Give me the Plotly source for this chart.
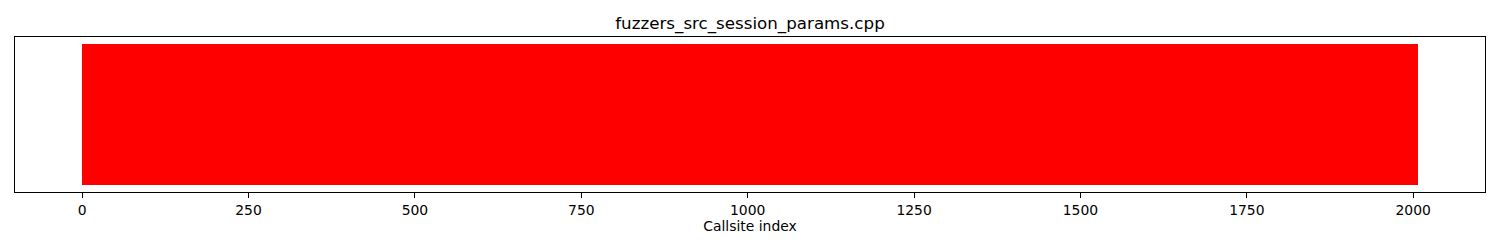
import plotly.graph_objects as go

# Data: callsite index ranges and their colour (red = not reached)
segment_start = [0]
segment_length = [2008]
segment_color = ["#ff0000"]
segment_value = [1]

tick_values = [0, 250, 500, 750, 1000, 1250, 1500, 1750, 2000]
tick_labels = ["0", "250", "500", "750", "1000", "1250", "1500", "1750", "2000"]
title_text = "fuzzers_src_session_params.cpp"
x_title = "Callsite index"

x_centers = [s + (l - 1) / 2 for s, l in zip(segment_start, segment_length)]

fig = go.Figure()
fig.add_trace(go.Bar(
    x=x_centers,
    y=segment_value,
    width=segment_length,
    base=0,
    marker=dict(color=segment_color, line=dict(width=0)),
    showlegend=False,
    hoverinfo="x",
))

data_min = min(segment_start) - 0.5
data_max = max(s + l for s, l in zip(segment_start, segment_length)) - 0.5
pad = 0.05 * (data_max - data_min)

FONT = "DejaVu Sans"
fig.update_layout(
    width=1500, height=250,
    margin=dict(l=15, r=15, t=37, b=58),
    paper_bgcolor="white", plot_bgcolor="white",
    font=dict(family=FONT, color="black", size=14),
    title=dict(text=title_text, x=0.5, xanchor="center", y=1 - 23 / 250, yanchor="middle",
               yref="container", font=dict(family=FONT, size=16.7, color="black")),
    bargap=0,
)
fig.update_xaxes(
    range=[data_min - pad, data_max + pad],
    tickmode="array", tickvals=tick_values, ticktext=tick_labels,
    ticks="outside", ticklen=5, tickwidth=1, tickcolor="black",
    showline=True, mirror=True, linecolor="black", linewidth=1,
    showgrid=False, zeroline=False,
    tickfont=dict(family=FONT, size=13.9, color="black"),
    title=dict(text=x_title, font=dict(family=FONT, size=13.9, color="black"), standoff=4),
)
fig.update_yaxes(
    range=[-0.05, 1.05],
    showticklabels=False, ticks="",
    showline=True, mirror=True, linecolor="black", linewidth=1,
    showgrid=False, zeroline=False,
)

fig.write_html("out.html")
